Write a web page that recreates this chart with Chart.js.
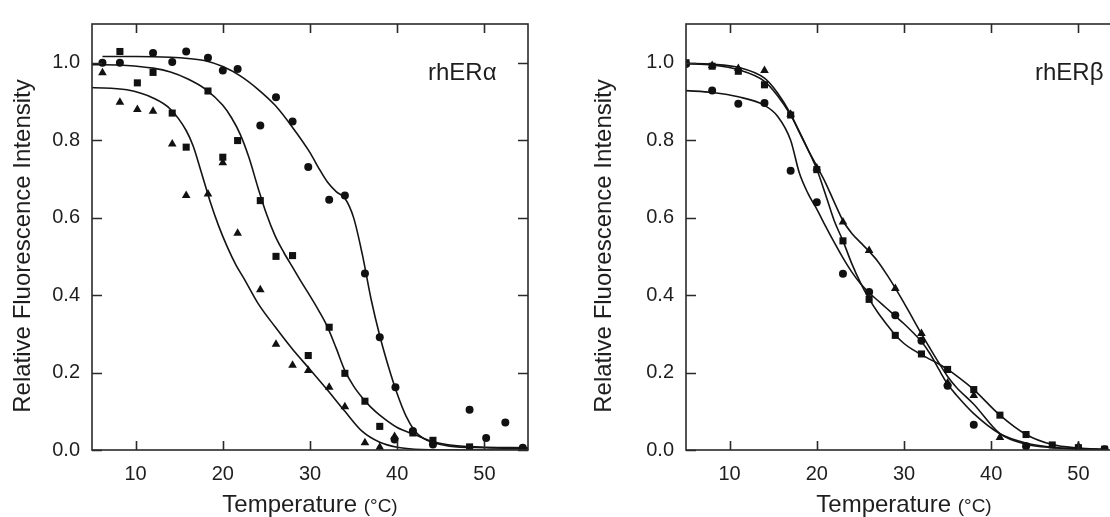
<!DOCTYPE html>
<html><head><meta charset="utf-8">
<script src="https://cdn.jsdelivr.net/npm/chart.js@4/dist/chart.umd.min.js"></script>
<style>
html,body{margin:0;padding:0;background:#fff;width:1110px;height:517px;overflow:hidden;position:relative}
canvas{position:absolute;top:0}
#cA{left:0}
#cB{left:594px}
</style></head><body>
<canvas id="cA" width="560" height="517"></canvas>
<canvas id="cB" width="560" height="517"></canvas>
<script>
// ---------- text ----------
const Y_TITLE = 'Relative Fluorescence Intensity';
const X_TITLE_MAIN = 'Temperature';
const X_TITLE_UNIT = '(°C)';
const LABEL_A = 'rhERα';
const LABEL_B = 'rhERβ';
const X_TICKS = [10, 20, 30, 40, 50];
const Y_TICKS = [0.0, 0.2, 0.4, 0.6, 0.8, 1.0];

// ---------- rhERα measured points ----------
const aCircT = [6.2, 8.2, 12.0, 14.2, 15.8, 18.3, 20.0, 21.7, 24.3, 26.1, 28.0, 29.8, 32.2, 34.0, 36.3, 38.0, 39.8, 39.7, 41.8, 44.1, 48.3, 50.2, 52.4, 54.4];
const aCircV = [1.0, 1.0, 1.025, 1.002, 1.029, 1.013, 0.98, 0.984, 0.838, 0.911, 0.848, 0.731, 0.646, 0.657, 0.456, 0.291, 0.162, 0.027, 0.049, 0.014, 0.104, 0.031, 0.071, 0.006];
const aSqT = [8.2, 10.2, 12.0, 14.2, 15.8, 18.3, 20.0, 21.7, 24.3, 26.1, 28.0, 29.8, 32.2, 34.0, 36.3, 38.0, 41.8, 44.1, 48.3];
const aSqV = [1.029, 0.948, 0.975, 0.87, 0.782, 0.927, 0.756, 0.799, 0.644, 0.5, 0.502, 0.244, 0.317, 0.198, 0.126, 0.061, 0.044, 0.025, 0.008];
const aTriT = [6.2, 8.2, 10.2, 12.0, 14.2, 15.8, 18.3, 20.0, 21.7, 24.3, 26.1, 28.0, 29.8, 32.2, 34.0, 36.3, 38.0, 39.7];
const aTriV = [0.974, 0.898, 0.879, 0.875, 0.79, 0.657, 0.661, 0.742, 0.56, 0.414, 0.273, 0.219, 0.205, 0.162, 0.112, 0.019, 0.007, 0.035];

// ---------- rhERα fitted curves ----------
const aCircFitT = [6.2, 10, 14, 16, 18, 20, 22, 24, 26, 28, 30, 31, 32, 33, 34, 35, 36, 37, 38, 39, 40, 41, 42, 43, 44, 46, 50, 55];
const aCircFitV = [1.016, 1.016, 1.014, 1.011, 1.005, 0.99, 0.966, 0.932, 0.89, 0.833, 0.768, 0.728, 0.692, 0.667, 0.65, 0.6, 0.505, 0.39, 0.295, 0.215, 0.145, 0.088, 0.05, 0.03, 0.02, 0.01, 0.006, 0.004];
const aSqFitT = [5, 9, 12, 14, 16, 18, 20, 21, 22, 23, 24, 25, 26, 27, 28, 29, 30, 31, 32, 33, 34, 35, 36, 37, 38, 40, 42, 44, 48, 55];
const aSqFitV = [0.995, 0.993, 0.986, 0.976, 0.958, 0.932, 0.89, 0.858, 0.815, 0.755, 0.68, 0.61, 0.553, 0.51, 0.472, 0.434, 0.398, 0.36, 0.318, 0.263, 0.205, 0.165, 0.135, 0.11, 0.09, 0.058, 0.04, 0.022, 0.009, 0.006];
const aTriFitT = [5, 9, 12, 14, 15.8, 16.6, 17.5, 18.5, 19.5, 20.5, 21.5, 22.5, 24, 26, 28, 30, 32, 34, 36, 38, 40, 42, 46, 55];
const aTriFitV = [0.936, 0.93, 0.909, 0.88, 0.825, 0.785, 0.72, 0.645, 0.58, 0.525, 0.478, 0.44, 0.38, 0.318, 0.26, 0.208, 0.155, 0.1, 0.048, 0.02, 0.007, 0.002, 0, 0];

// ---------- rhERβ measured points ----------
const bCircT = [5, 8, 11, 14, 17, 20, 23, 26, 29, 32, 35, 38, 44, 53];
const bCircV = [0.997, 0.928, 0.894, 0.896, 0.721, 0.64, 0.455, 0.408, 0.348, 0.282, 0.166, 0.065, 0.01, 0.002];
const bSqT = [5, 8, 11, 14, 17, 20, 23, 26, 29, 32, 35, 38, 41, 44, 47, 50, 53];
const bSqV = [1.0, 0.991, 0.978, 0.943, 0.865, 0.724, 0.54, 0.389, 0.296, 0.248, 0.208, 0.156, 0.09, 0.04, 0.013, 0.006, 0.002];
const bTriT = [8, 11, 14, 17, 20, 23, 26, 29, 32, 35, 38, 41, 50];
const bTriV = [0.993, 0.985, 0.98, 0.867, 0.728, 0.589, 0.515, 0.417, 0.301, 0.173, 0.141, 0.032, 0.01];

// ---------- rhERβ fitted curves ----------
const bFitT = [5, 8, 11, 14, 15.5, 17, 18, 19, 20, 21, 22, 23, 24, 25, 26, 27, 28, 29, 30, 31, 32, 33, 34, 35, 36, 38, 41, 44, 47, 50, 53];
const bCircFitV = [0.928, 0.923, 0.912, 0.89, 0.862, 0.8, 0.715, 0.662, 0.622, 0.578, 0.536, 0.496, 0.46, 0.43, 0.406, 0.386, 0.366, 0.346, 0.326, 0.304, 0.28, 0.248, 0.208, 0.17, 0.142, 0.094, 0.042, 0.018, 0.007, 0.003, 0.001];
const bSqFitV = [0.998, 0.994, 0.982, 0.952, 0.915, 0.865, 0.822, 0.775, 0.725, 0.66, 0.592, 0.54, 0.482, 0.432, 0.39, 0.355, 0.325, 0.297, 0.275, 0.259, 0.246, 0.234, 0.222, 0.208, 0.192, 0.156, 0.09, 0.04, 0.014, 0.005, 0.001];
const bTriFitV = [0.998, 0.996, 0.988, 0.96, 0.922, 0.868, 0.82, 0.775, 0.733, 0.69, 0.64, 0.592, 0.56, 0.536, 0.513, 0.487, 0.454, 0.418, 0.38, 0.34, 0.3, 0.262, 0.225, 0.19, 0.162, 0.118, 0.042, 0.015, 0.006, 0.003, 0.001];

// ---------- styling ----------
const FONT = "'Liberation Sans', Arial, Helvetica, sans-serif";
const INK = '#1e1e1e';
const FRAME = '#2a2a2a';

const pts = (T, V) => T.map((t, i) => ({x: t, y: V[i]}));

function marks(T, V, style, r) {
  return {data: pts(T, V), showLine: false, pointStyle: style, pointRadius: r, pointHoverRadius: r,
    backgroundColor: '#111', borderColor: '#111', borderWidth: 0};
}
function curve(T, V) {
  return {data: pts(T, V), showLine: true, pointRadius: 0, pointHoverRadius: 0, borderColor: '#141414',
    borderWidth: 1.6, cubicInterpolationMode: 'monotone', fill: false};
}

const panelDecor = {
  id: 'panelDecor',
  afterDraw(chart, args, o) {
    const {ctx, chartArea: a, scales: {x, y}} = chart;
    ctx.save();
    ctx.strokeStyle = FRAME;
    ctx.lineWidth = 1.6;
    ctx.strokeRect(a.left, a.top, a.right - a.left, a.bottom - a.top);
    ctx.beginPath();
    X_TICKS.forEach(v => {
      const px = Math.round(x.getPixelForValue(v)) + 0.5;
      ctx.moveTo(px, a.bottom); ctx.lineTo(px, a.bottom - 9);
      ctx.moveTo(px, a.top); ctx.lineTo(px, a.top + 9);
    });
    Y_TICKS.forEach(v => {
      const py = Math.round(y.getPixelForValue(v)) + 0.5;
      ctx.moveTo(a.left, py); ctx.lineTo(a.left + 10, py);
      ctx.moveTo(a.right, py); ctx.lineTo(a.right - 10, py);
    });
    ctx.stroke();

    ctx.fillStyle = INK;
    // y title
    ctx.save();
    ctx.translate(o.yTitleX, o.yTitleY);
    ctx.rotate(-Math.PI / 2);
    ctx.font = '24px ' + FONT;
    ctx.textAlign = 'center';
    ctx.textBaseline = 'alphabetic';
    ctx.fillText(Y_TITLE, 0, 0);
    ctx.restore();
    // x title, unit in a smaller size
    const fMain = '24px ' + FONT, fUnit = '19px ' + FONT;
    ctx.font = fMain; const w1 = ctx.measureText(X_TITLE_MAIN + ' ').width;
    ctx.font = fUnit; const w2 = ctx.measureText(X_TITLE_UNIT).width;
    const cx = (a.left + a.right) / 2;
    let sx = cx - (w1 + w2) / 2;
    ctx.textAlign = 'left'; ctx.textBaseline = 'alphabetic';
    ctx.font = fMain; ctx.fillText(X_TITLE_MAIN + ' ', sx, o.xTitleY);
    ctx.font = fUnit; ctx.fillText(X_TITLE_UNIT, sx + w1, o.xTitleY);
    // panel label
    ctx.font = '24px ' + FONT;
    ctx.fillText(o.label, o.labelX, o.labelY);
    ctx.restore();
  }
};

function build(id, sets, decor) {
  const tickFont = {family: FONT, size: 20};
  return new Chart(document.getElementById(id), {
    type: 'scatter',
    data: {datasets: sets},
    options: {
      responsive: false, animation: false, events: [],
      layout: {padding: {left: 0, top: 15, right: 32, bottom: 0}},
      plugins: {legend: {display: false}, tooltip: {enabled: false}, panelDecor: decor},
      scales: {
        x: {type: 'linear', min: 5, max: 55,
          ticks: {font: tickFont, color: INK, padding: 12, maxRotation: 0, autoSkip: false},
          afterBuildTicks(s) { s.ticks = X_TICKS.map(v => ({value: v})); },
          grid: {display: false, drawTicks: false}, border: {display: false},
          afterFit(s) { s.height = 67; }},
        y: {type: 'linear', min: 0, max: 1.1,
          ticks: {font: tickFont, color: INK, padding: 12, autoSkip: false,
            callback: v => Number(v).toFixed(1)},
          afterBuildTicks(s) { s.ticks = Y_TICKS.map(v => ({value: v})); },
          grid: {display: false, drawTicks: false}, border: {display: false},
          afterFit(s) { s.width = 92; }}
      }
    },
    plugins: [panelDecor]
  });
}

build('cA', [
  marks(aCircT, aCircV, 'circle', 4),
  marks(aSqT, aSqV, 'rect', 5),
  marks(aTriT, aTriV, 'triangle', 5),
  curve(aCircFitT, aCircFitV),
  curve(aSqFitT, aSqFitV),
  curve(aTriFitT, aTriFitV)
], {label: LABEL_A, labelX: 428, labelY: 80, yTitleX: 30, yTitleY: 246, xTitleY: 512});

build('cB', [
  marks(bCircT, bCircV, 'circle', 4),
  marks(bSqT, bSqV, 'rect', 5),
  marks(bTriT, bTriV, 'triangle', 5),
  curve(bFitT, bCircFitV),
  curve(bFitT, bSqFitV),
  curve(bFitT, bTriFitV)
], {label: LABEL_B, labelX: 441, labelY: 80, yTitleX: 17, yTitleY: 246, xTitleY: 512});
</script>
</body></html>
